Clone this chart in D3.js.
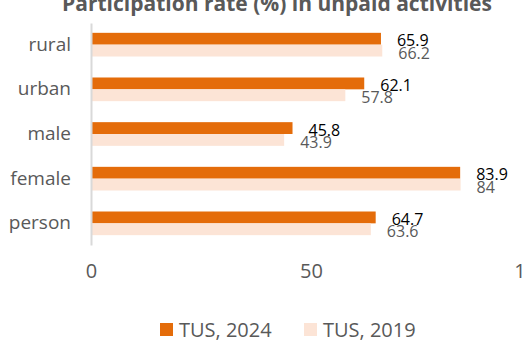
<!DOCTYPE html>
<html>
<head>
<meta charset="utf-8">
<script src="https://cdn.jsdelivr.net/npm/d3@7"></script>
<style>
  html, body { margin: 0; padding: 0; background: #fff; }
  svg { display: block; }
  text { font-family: "Open Sans", "Noto Sans", sans-serif; }
</style>
</head>
<body>
<svg id="chart" width="524" height="344"></svg>
<script>
// Participation rate (%) in unpaid activities, by group
const categories = ["rural", "urban", "male", "female", "person"];
const seriesNames = ["TUS, 2024", "TUS, 2019"];
const tus2024 = [65.9, 62.1, 45.8, 83.9, 64.7];
const tus2019 = [66.2, 57.8, 43.9, 84, 63.6];
const xTicks = [0, 50, 100];

const colors = ["#E46C0A", "#FCE4D6"];
const labelColors = ["#000000", "#595959"];

const svg = d3.select("#chart");

const x = d3.scaleLinear().domain([0, 100]).range([91, 531]);
const y = d3.scaleBand().domain(categories).range([23, 245]).paddingInner(0.47).paddingOuter(0.22);
const sub = d3.scaleBand().domain([0, 1]).range([0, y.bandwidth()]);

// title (partly above the top edge)
svg.append("text")
  .attr("x", 277).attr("y", 11)
  .attr("text-anchor", "middle")
  .attr("font-size", 21).attr("font-weight", "bold")
  .attr("fill", "#595959")
  .text("Participation rate (%) in unpaid activities");

const series = [tus2024, tus2019];

// bars
series.forEach((vals, s) => {
  svg.append("g").selectAll("rect")
    .data(categories)
    .join("rect")
    .attr("x", x(0))
    .attr("y", (c) => y(c) + sub(s))
    .attr("width", (c, i) => x(vals[i]) - x(0))
    .attr("height", sub.bandwidth())
    .attr("fill", colors[s]);
});

// value labels
series.forEach((vals, s) => {
  svg.append("g").selectAll("text")
    .data(categories)
    .join("text")
    .attr("x", (c, i) => x(vals[i]) + 16)
    .attr("y", (c) => y(c) + sub(s) + sub.bandwidth() / 2 + (s === 0 ? 2 : 2.5))
    .attr("dy", "0.35em")
    .attr("font-size", 16)
    .attr("fill", labelColors[s])
    .text((c, i) => vals[i]);
});

// vertical axis line and category labels
const yAxis = svg.append("g")
  .attr("transform", `translate(${x(0)},0)`)
  .call(d3.axisLeft(y).tickSize(0).tickPadding(20));
yAxis.select(".domain").attr("stroke", "#D9D9D9").attr("stroke-width", 2);
yAxis.selectAll("text")
  .attr("font-size", 19)
  .attr("fill", "#595959")
  .attr("font-family", "Open Sans, sans-serif");

// x tick labels
const xAxis = svg.append("g")
  .attr("transform", "translate(0,264)")
  .call(d3.axisBottom(x).tickValues(xTicks).tickSize(0).tickPadding(0));
xAxis.select(".domain").remove();
xAxis.selectAll("text")
  .attr("font-size", 20)
  .attr("fill", "#595959")
  .attr("font-family", "Open Sans, sans-serif");

// legend
const legendItems = [{ name: seriesNames[0], color: colors[0], x: 160 }, { name: seriesNames[1], color: colors[1], x: 304 }];
const legend = svg.append("g");
legendItems.forEach((d) => {
  legend.append("rect")
    .attr("x", d.x).attr("y", 323)
    .attr("width", 13).attr("height", 13)
    .attr("fill", d.color);
  legend.append("text")
    .attr("x", d.x + 19).attr("y", 329.5)
    .attr("dy", "0.35em")
    .attr("font-size", 20)
    .attr("fill", "#595959")
    .text(d.name);
});
</script>
</body>
</html>
